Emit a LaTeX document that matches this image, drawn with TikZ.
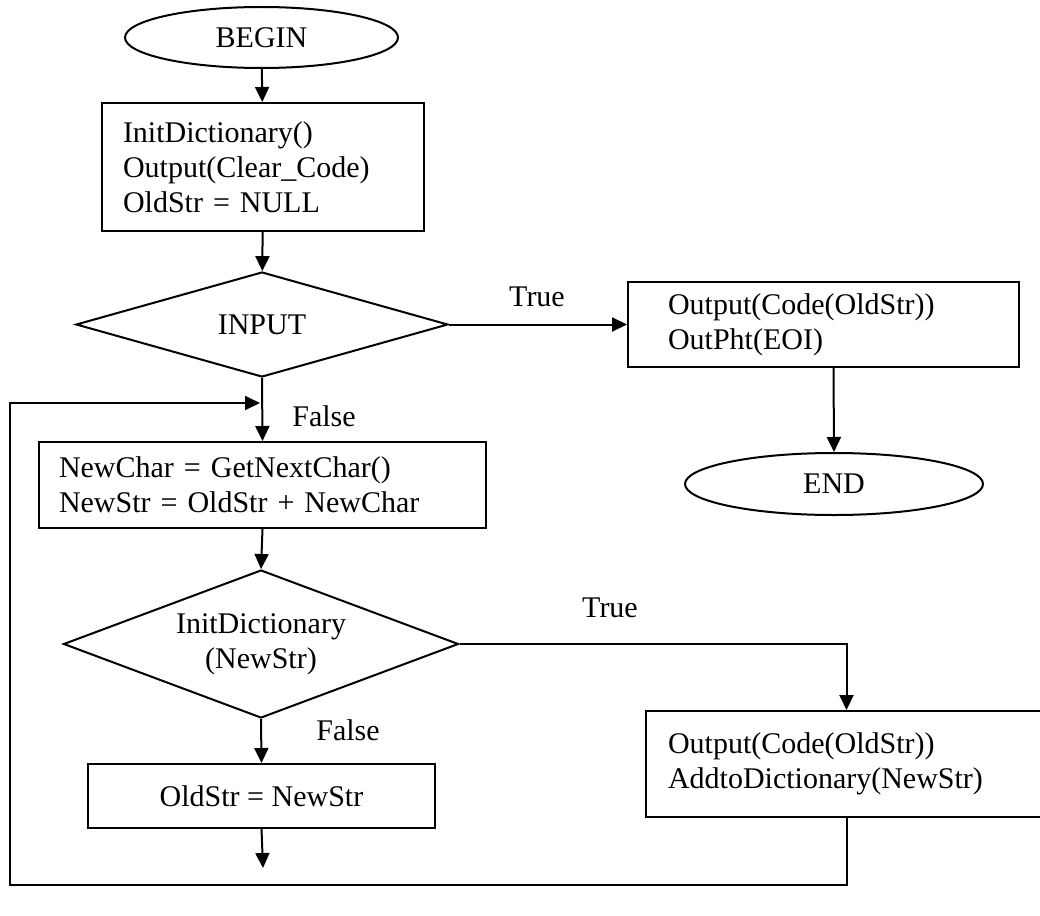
\documentclass[tikz,border=0pt]{standalone}
\usepackage{fontspec}
\setmainfont{Liberation Serif}
\usetikzlibrary{shapes.geometric, arrows.meta}

\begin{document}
\begin{tikzpicture}[x=1pt, y=-1pt, line width=2pt,
  every node/.style={font=\fontsize{30}{35}\selectfont},
  term/.style={draw, ellipse, inner sep=0pt},
  procbox/.style={draw, rectangle, align=left, anchor=north west, inner ysep=0pt},
  decide/.style={draw, diamond, inner sep=0pt, align=center, shape aspect=2.6},
  arr/.style={-{Triangle[length=15pt, width=14pt]}}]
  \useasboundingbox (0,0) rectangle (1040,915);
  % --- Main column ---
  \node[term, minimum width=273, minimum height=61] (begin) at (261.5,37.5) {BEGIN};
  \node[procbox, text width=280, inner xsep=21, minimum height=128] (init) at (101,102)
    {InitDictionary()\\Output(Clear\_Code)\\OldStr = NULL};
  \node[decide, minimum width=372, minimum height=105] (input) at (262,324.5) {INPUT};
  \node[procbox, text width=407, inner xsep=20, minimum height=86] (nextChar) at (38,441)
    {NewChar = GetNextChar()\\NewStr = OldStr + NewChar};
  \node[decide, minimum width=395, minimum height=148] (lookup) at (261,644)
    {InitDictionary\\(NewStr)};
  \node[draw, minimum width=347, minimum height=64, inner sep=0pt] (oldNew) at (261.5,796)
    {OldStr = NewStr};
  \coordinate (tail) at (263,868);
  % --- Right side ---
  \node[procbox, text width=311, inner xsep=40, minimum height=85] (outEnd) at (627,281)
    {Output(Code(OldStr))\\OutPht(EOI)};
  \node[term, minimum width=298, minimum height=62] (endNode) at (834,484) {END};
  \node[procbox, text width=357, inner xsep=22, minimum height=106] (addDict) at (645,710)
    {Output(Code(OldStr))\\AddtoDictionary(NewStr)};
  % --- Connectors ---
  \draw[arr] (begin) -- (init);
  \draw[arr] (init) -- (input);
  \draw[arr] (input.east) -- (outEnd.west);
  \draw[arr] ([xshift=10pt]outEnd.south) -- (endNode.north);
  \draw[arr] (input.south) -- (nextChar.north);
  \draw[arr] (nextChar.south) -- (lookup.north);
  \draw[arr] (lookup.east) -| (addDict.north);
  \draw[arr] (lookup.south) -- (oldNew.north);
  \draw[arr] (oldNew.south) -- (tail);
  % --- Loop back ---
  \coordinate (loopBot) at (10,885);
  \coordinate (loopIn) at (260,403);
  \draw[arr] (addDict.south) |- (loopBot) |- (loopIn);
  % --- Branch labels ---
  \node (t1) at (537,297) {True};
  \node (f1) at (324,416) {False};
  \node (t2) at (610,608) {True};
  \node (f2) at (348,730) {False};
\end{tikzpicture}
\end{document}
